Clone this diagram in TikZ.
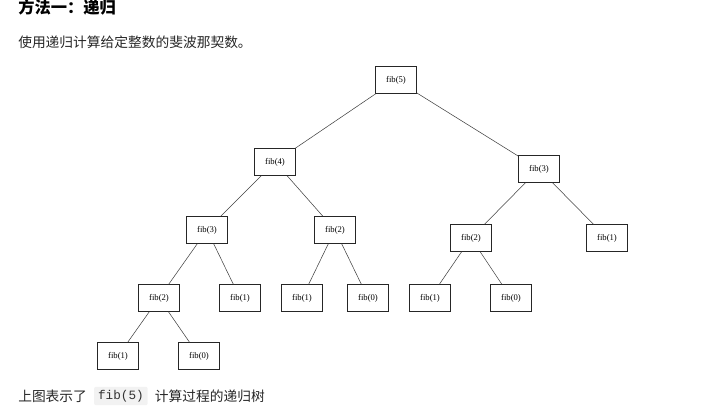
\documentclass[tikz,border=0pt]{standalone}
\usepackage{xcolor}
\usepackage{fontspec}
\usepackage{tikz}
\usetikzlibrary{positioning}
\setmainfont{Liberation Serif}
\newfontfamily\cjk{Noto Sans CJK SC}
\newfontfamily\codefont{Liberation Mono}

\begin{document}
\begin{tikzpicture}[
    x=0.75pt, y=-0.75pt,
    call/.style={draw=black!85, line width=0.6pt, minimum width=30.5pt, minimum height=20pt, inner sep=0pt, font=\fontsize{6.5}{7}\selectfont},
    edge/.style={draw=black!75, line width=0.4pt},
    txt/.style={anchor=west, inner sep=0pt, font=\cjk\fontsize{10.3}{12}\selectfont, text=black!85}
]
\useasboundingbox (0,0) rectangle (707,405);

% Heading and caption
\node[txt, font=\cjk\bfseries\fontsize{12.2}{14}\selectfont, text=black] (title) at (18,7) {方法一：递归};
\node[txt] (intro) at (18,42) {使用递归计算给定整数的斐波那契数。};

% Recursion tree, level 0 and 1
\node[call] (f5) at (396,80) {fib(5)};
\node[call] (f4) at (275,162) {fib(4)};
\node[call] (f3r) at (539,169) {fib(3)};

% level 2
\node[call] (f3l) at (207,230) {fib(3)};
\node[call] (f2m) at (335,230) {fib(2)};
\node[call] (f2r) at (471,238) {fib(2)};
\node[call] (f1r) at (607,238) {fib(1)};

% level 3
\node[call] (f2l) at (159,298) {fib(2)};
\node[call] (f1a) at (240,298) {fib(1)};
\node[call] (f1b) at (302,298) {fib(1)};
\node[call] (f0a) at (368,298) {fib(0)};
\node[call] (f1c) at (430,298) {fib(1)};
\node[call] (f0b) at (511,298) {fib(0)};

% level 4
\node[call] (f1d) at (118,356) {fib(1)};
\node[call] (f0c) at (199,356) {fib(0)};

% Edges
\draw[edge] (f5) -- (f4);
\draw[edge] (f5) -- (f3r);
\draw[edge] (f4) -- (f3l);
\draw[edge] (f4) -- (f2m);
\draw[edge] (f3r) -- (f2r);
\draw[edge] (f3r) -- (f1r);
\draw[edge] (f3l) -- (f2l);
\draw[edge] (f3l) -- (f1a);
\draw[edge] (f2m) -- (f1b);
\draw[edge] (f2m) -- (f0a);
\draw[edge] (f2r) -- (f1c);
\draw[edge] (f2r) -- (f0b);
\draw[edge] (f2l) -- (f1d);
\draw[edge] (f2l) -- (f0c);

% Caption below the tree
\node[txt] (outro) at (18,396) {上图表示了};
\node[anchor=west, fill=black!5, rounded corners=1.5pt, inner xsep=3pt, inner ysep=2.5pt, font=\codefont\fontsize{9.5}{11}\selectfont, text=black!80, right=5pt of outro] (code) {fib(5)};
\node[txt, right=5pt of code] (outro2) {计算过程的递归树};

\end{tikzpicture}
\end{document}
